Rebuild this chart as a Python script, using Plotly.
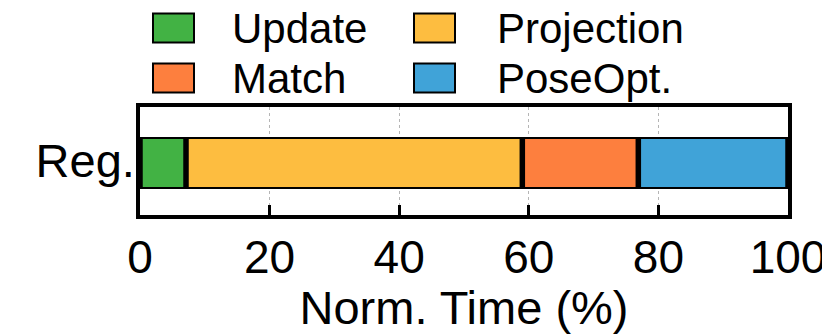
import plotly.graph_objects as go

# ---- data ----
category = ["Reg."]
series_names = ["Update", "Projection", "Match", "PoseOpt."]
series_values = [7.1, 51.9, 17.9, 23.1]
series_colors = ["#42b244", "#fdbd40", "#fd7f3e", "#40a3d8"]
x_ticks = [0, 20, 40, 60, 80, 100]

# ---- layout geometry (page pixels; page body has an 8px margin) ----
OFF = 8
PAGE_W, PAGE_H = 830, 334
W, H = PAGE_W - OFF, PAGE_H - OFF
PL, PR, PT, PB = 140, 788, 107, 215          # plot area in page pixels
ML, MT = PL - OFF, PT - OFF
MR, MB = PAGE_W - PR, PAGE_H - PB
PW, PH = PR - PL, PB - PT
FONT = "Liberation Sans, Arial, sans-serif"

def px2x(px):
    return (px - PL) / PW

def py2y(py):
    return (PB - py) / PH

fig = go.Figure()

total = sum(series_values)
gap = 0.85  # black separator width in data units

# black backing bar giving the outline / separators
fig.add_trace(go.Bar(
    y=category, x=[total], base=[0], orientation="h",
    width=0.481, offset=-0.259, marker=dict(color="black", line=dict(width=0)),
    showlegend=False, hoverinfo="skip",
))

start = 0.0
for name, val, col in zip(series_names, series_values, series_colors):
    fig.add_trace(go.Bar(
        y=category, x=[val - gap], base=[start + gap / 2], orientation="h",
        width=0.445, offset=-0.241, name=name,
        marker=dict(color=col, line=dict(width=0)),
        showlegend=False,
    ))
    start += val

# ---- custom legend (2 x 2) ----
legend_cols = [(153, 194, 231), (414, 455, 496)]
legend_rows = [28, 78]
shapes = []
annotations = []
for i, (name, col) in enumerate(zip(series_names, series_colors)):
    r, c = divmod(i, 2)
    bx0, bx1, tx = legend_cols[c]
    cy = legend_rows[r]
    shapes.append(dict(
        type="rect", xref="paper", yref="paper",
        x0=px2x(bx0), x1=px2x(bx1), y0=py2y(cy + 14.5), y1=py2y(cy - 14.5),
        fillcolor=col, line=dict(color="black", width=2),
    ))
    annotations.append(dict(
        xref="paper", yref="paper", x=px2x(tx), y=py2y(cy),
        xanchor="left", yanchor="middle", showarrow=False,
        text=name, font=dict(family=FONT, size=42, color="black"),
        borderpad=0,
    ))

fig.update_layout(
    width=W, height=H,
    margin=dict(l=ML, r=MR, t=MT, b=MB, pad=0, autoexpand=False),
    plot_bgcolor="white", paper_bgcolor="white",
    barmode="overlay",
    shapes=shapes, annotations=annotations,
    font=dict(family=FONT, color="black"),
    showlegend=False,
)
fig.update_xaxes(
    range=[0, 100], tickvals=x_ticks, ticktext=[str(t) for t in x_ticks],
    ticks="inside", ticklen=10, tickwidth=3, tickcolor="black",
    showline=True, linewidth=3.5, linecolor="black", mirror=True,
    showgrid=True, gridcolor="#b5b5b5", gridwidth=1, griddash="dot",
    zeroline=False, automargin=False,
    tickfont=dict(family=FONT, size=46, color="black"),
    ticklabelstandoff=-1,
    title=dict(text="Norm. Time (%)", font=dict(family=FONT, size=47, color="black"), standoff=1),
)
fig.update_yaxes(
    range=[-0.5, 0.5], ticks="", showgrid=False, zeroline=False,
    showline=True, linewidth=3.5, linecolor="black", mirror=True,
    automargin=False,
    tickfont=dict(family=FONT, size=47, color="black"),
    ticklabelstandoff=-8,
)

fig.write_html("out.html")
